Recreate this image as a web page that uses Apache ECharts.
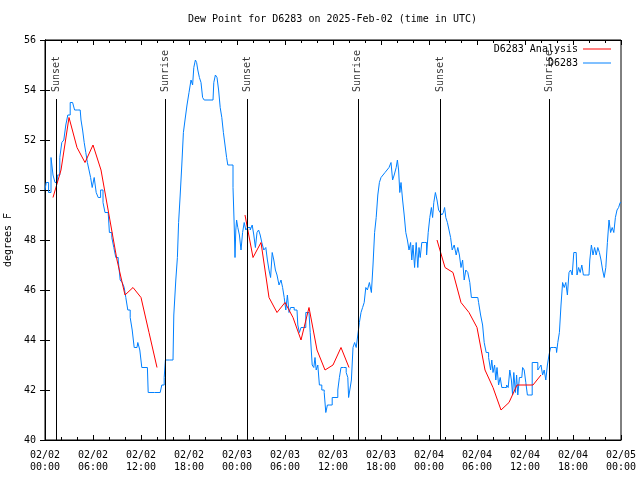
<!DOCTYPE html>
<html>
<head>
<meta charset="utf-8">
<script src="https://cdn.jsdelivr.net/npm/echarts@6/dist/echarts.min.js"></script>
<style>html,body{margin:0;padding:0;background:#fff}#c{width:640px;height:480px}</style>
</head>
<body>
<div id="c"></div>
<script>
// hours since 2025-02-02 00:00 UTC
var xTickLabels = ['02/02\n00:00','02/02\n06:00','02/02\n12:00','02/02\n18:00','02/03\n00:00','02/03\n06:00','02/03\n12:00','02/03\n18:00','02/04\n00:00','02/04\n06:00','02/04\n12:00','02/04\n18:00','02/05\n00:00'];

var analysisDay1 = [[1,49.7],[2,50.8],[3,52.9],[4,51.7],[5,51.1],[6,51.8],[7,50.8],[8,49.0],[9,47.2],[10,45.8],[11,46.1],[12,45.7],[13,44.3],[14,42.9]];
var analysisDay2 = [[25,49.0],[26,47.3],[27,47.9],[28,45.7],[29,45.1],[30,45.5],[31,44.9],[32,44.0],[33,45.3],[34,43.6],[35,42.8],[36,43.0],[37,43.7],[38,42.9]];
var analysisDay3 = [[49,48.0],[50,46.9],[51,46.7],[52,45.5],[53,45.1],[54,44.5],[55,42.8],[56,42.1],[57,41.2],[58,41.5],[59,42.2],[60,42.2],[61,42.2],[62,42.6]];

var obsDay1 = [[0.0,50.0],[0.3,50.3],[0.6,49.9],[0.9,51.3],[1.1,50.6],[1.4,50.3],[1.7,50.6],[2.0,51.3],[2.2,51.9],[2.5,52.0],[2.7,52.6],[3.0,53.0],[3.3,53.5],[3.6,53.5],[3.8,53.2],[4.4,53.2],[4.6,52.8],[4.8,52.4],[5.0,51.9],[5.2,51.5],[5.4,51.1],[5.6,50.8],[5.8,50.5],[6.0,50.1],[6.3,50.5],[6.5,49.9],[6.8,49.7],[7.1,50.0],[7.4,49.5],[7.6,49.1],[7.9,49.1],[8.2,48.3],[8.5,48.1],[8.7,47.7],[9.0,47.3],[9.3,47.2],[9.5,46.4],[9.8,46.3],[10.0,46.1],[10.2,45.7],[10.5,45.2],[10.8,44.9],[11.0,44.4],[11.3,43.7],[11.5,43.7],[11.7,43.9],[12.0,43.6],[12.2,42.9],[12.8,42.9],[13.0,41.9],[14.4,41.9],[14.8,42.2],[15.0,42.5],[15.1,43.2],[16.0,43.2],[16.2,45.0],[16.5,46.4],[16.6,47.3],[16.8,48.7],[17.0,49.8],[17.2,51.0],[17.4,52.3],[17.6,52.8],[17.9,53.4],[18.1,53.9],[18.4,54.4],[18.5,54.2],[18.7,54.9],[18.9,55.2],[19.0,55.1],[19.2,54.8],[19.4,54.5],[19.6,54.3],[19.8,53.7],[20.0,53.6],[21.0,53.6],[21.2,54.3],[21.4,54.6],[21.6,54.5],[21.8,54.0],[22.0,53.3],[22.2,52.9],[22.4,52.3],[22.6,51.8],[22.8,51.3],[22.9,51.0],[23.4,51.0],[23.6,50.1],[23.7,48.6],[23.8,47.3],[23.9,48.4]];
var obsDay2 = [[24.0,48.8],[24.2,48.5],[24.4,48.2],[24.6,47.6],[24.8,48.3],[25.0,48.7],[25.2,48.4],[25.5,48.5],[25.8,48.4],[26.0,48.6],[26.2,48.2],[26.4,47.7],[26.6,48.3],[26.8,48.4],[27.0,48.2],[27.2,47.9],[27.5,47.6],[27.7,47.7],[27.9,47.2],[28.1,46.8],[28.3,46.5],[28.5,47.5],[28.7,47.2],[28.9,46.8],[29.1,46.6],[29.4,46.2],[29.6,46.4],[29.8,46.1],[30.0,45.7],[30.2,45.2],[30.4,45.8],[30.6,45.1],[30.8,45.3],[31.5,45.2],[31.7,44.6],[31.9,44.3],[32.1,44.5],[32.5,44.5],[32.7,45.1],[33.0,45.1],[33.3,44.3],[33.5,43.0],[33.7,42.9],[33.8,43.3],[34.0,42.8],[34.2,43.0],[34.4,42.2],[34.8,42.0],[35.0,41.9],[35.2,41.1],[35.4,41.4],[35.8,41.4],[36.0,41.7],[36.5,41.7],[36.7,42.0],[36.9,42.5],[37.1,42.9],[37.5,42.9],[37.8,42.7],[37.9,42.5],[38.0,41.7],[38.2,42.0],[38.4,42.4],[38.6,43.7],[38.8,43.9],[39.0,43.7],[39.2,44.2],[39.4,44.7],[39.6,45.1],[39.8,45.3],[40.0,45.5],[40.2,46.1],[40.4,46.0],[40.7,46.3],[40.9,45.9],[41.1,47.0],[41.3,48.3],[41.5,48.9],[41.7,49.8],[41.9,50.3],[42.1,50.5],[42.4,50.6],[42.6,50.7],[42.9,50.8],[43.1,50.9],[43.4,51.1],[43.5,50.4],[43.8,50.6],[44.0,50.9],[44.1,51.2],[44.3,50.8],[44.4,49.9],[44.6,50.3],[44.8,49.6],[45.0,49.0],[45.2,48.3],[45.4,48.0],[45.6,47.6],[45.8,47.9],[45.9,47.2],[46.1,47.8],[46.3,46.9],[46.5,47.9],[46.7,46.9],[46.8,47.7],[47.0,47.3],[47.2,47.9],[47.6,47.9],[47.8,47.4]];
var obsDay3 = [[48.0,48.3],[48.2,48.9],[48.4,49.3],[48.5,48.9],[48.7,49.5],[48.9,49.9],[49.1,49.6],[49.3,49.2],[49.5,49.1],[49.7,49.0],[49.9,49.1],[50.0,49.3],[50.2,48.9],[50.4,48.7],[50.6,48.4],[50.8,48.1],[51.0,47.6],[51.3,47.8],[51.5,47.4],[51.7,47.7],[51.9,47.4],[52.1,46.9],[52.3,47.2],[52.5,46.4],[52.7,46.8],[53.0,46.7],[53.2,46.3],[53.4,45.7],[54.1,45.7],[54.3,45.5],[54.6,45.0],[54.8,44.6],[55.0,43.9],[55.3,43.5],[55.6,43.3],[55.8,42.8],[55.9,43.2],[56.1,42.7],[56.3,43.0],[56.4,42.4],[56.6,42.9],[56.8,42.2],[57.0,42.5],[57.2,42.1],[57.6,42.1],[57.8,42.2],[58.0,42.1],[58.2,42.8],[58.4,42.4],[58.5,41.8],[58.7,42.7],[58.9,41.9],[59.0,42.6],[59.2,41.8],[59.4,42.5],[59.6,42.5],[59.8,42.9],[60.0,42.8],[60.2,42.3],[60.4,41.8],[60.8,41.8],[61.0,43.1],[61.5,43.1],[61.7,42.8],[61.9,42.9],[62.1,43.0],[62.3,42.6],[62.5,42.8],[62.7,42.4],[62.9,43.0],[63.1,43.4],[63.3,43.7],[63.9,43.7],[64.0,43.5],[64.2,43.9],[64.4,44.3],[64.6,45.4],[64.8,46.3],[65.0,46.1],[65.2,46.3],[65.4,45.8],[65.6,46.7],[65.8,46.8],[66.0,46.6],[66.2,47.5],[66.4,47.5],[66.6,46.6],[66.8,46.9],[67.0,46.7],[67.2,47.0],[67.4,46.6],[68.0,46.6],[68.2,47.2],[68.4,47.8],[68.6,47.4],[68.8,47.7],[69.0,47.4],[69.2,47.7],[69.4,47.5],[69.6,47.2],[69.8,46.8],[70.0,46.5],[70.2,46.9],[70.4,47.9],[70.6,48.8],[70.8,48.3],[71.0,48.5],[71.2,48.3],[71.4,48.9],[71.6,49.2],[71.8,49.3],[72.0,49.5]];

var sunTimes = [1.42, 15.05, 25.25, 39.1, 49.37, 63.0];
var sunLabels = ['Sunset', 'Sunrise', 'Sunset', 'Sunrise', 'Sunset', 'Sunrise'];
var sunLineTop = 53.64;
var sunLabelBase = 53.92;

var FONT = 'DejaVu Sans Mono';
var analysisData = analysisDay1.concat([[14.5, '-']], analysisDay2, [[38.5, '-']], analysisDay3);
var obsData = obsDay1.concat(obsDay2, obsDay3);

var chart = echarts.init(document.getElementById('c'), null, {renderer: 'canvas'});
var axisCommon = {
  type: 'value', min: 0, max: 72, interval: 6,
  axisLine: {show: true, lineStyle: {color: '#000', width: 1}},
  axisTick: {show: true, inside: true, length: 5, lineStyle: {color: '#000'}},
  minorTick: {show: true, splitNumber: 3, length: 3, lineStyle: {color: '#000'}},
  splitLine: {show: false}
};
var legendText = {fontFamily: FONT, fontSize: 10, color: '#000'};
chart.setOption({
  animation: false,
  backgroundColor: '#fff',
  textStyle: {fontFamily: FONT},
  title: {
    text: 'Dew Point for D6283 on 2025-Feb-02 (time in UTC)',
    left: 183, top: 9,
    textStyle: {fontFamily: FONT, fontSize: 10, fontWeight: 'normal', color: '#000'}
  },
  legend: [
    {data: ['D6283 Analysis'], right: 29, top: 44, padding: 0, align: 'right', icon: 'rect', itemWidth: 28, itemHeight: 1,
     selectedMode: false, textStyle: legendText},
    {data: ['D6283'], right: 29, top: 58, padding: 0, align: 'right', icon: 'rect', itemWidth: 28, itemHeight: 1,
     selectedMode: false, textStyle: legendText}
  ],
  grid: {left: 45, right: 19, top: 40, bottom: 40, show: true, borderColor: '#000', borderWidth: 1,
         containLabel: false, outerBoundsMode: 'none'},
  xAxis: [
    Object.assign({}, axisCommon, {
      position: 'bottom',
      axisLabel: {show: true, color: '#000', fontFamily: FONT, fontSize: 10, lineHeight: 12, margin: 9,
        formatter: function (v) { return xTickLabels[Math.round(v / 6)]; }}
    }),
    Object.assign({}, axisCommon, {position: 'top', axisLabel: {show: false}})
  ],
  yAxis: [
    {type: 'value', min: 40, max: 56, interval: 2, position: 'left',
     name: 'degrees F', nameLocation: 'middle', nameGap: 30,
     nameTextStyle: {fontFamily: FONT, fontSize: 10, color: '#000'},
     axisLine: {show: true, lineStyle: {color: '#000'}},
     axisTick: {show: true, inside: true, length: 5, lineStyle: {color: '#000'}},
     axisLabel: {color: '#000', fontFamily: FONT, fontSize: 10, margin: 9},
     splitLine: {show: false}},
    {type: 'value', min: 40, max: 56, interval: 2, position: 'right',
     axisLine: {show: true, lineStyle: {color: '#000'}},
     axisTick: {show: true, inside: true, length: 5, lineStyle: {color: '#000'}},
     axisLabel: {show: false}, splitLine: {show: false}}
  ],
  series: [
    {
      name: 'sun', type: 'scatter', symbolSize: 0, silent: true,
      data: sunTimes.map(function (t, i) { return {value: [t, sunLabelBase], name: sunLabels[i]}; }),
      label: {show: true, position: 'inside', rotate: 90, align: 'left', verticalAlign: 'middle',
        formatter: function (p) { return p.name; }, color: '#000', fontFamily: FONT, fontSize: 10},
      markLine: {
        silent: true, symbol: 'none', animation: false,
        lineStyle: {color: '#000', width: 1, type: 'solid'},
        label: {show: false},
        data: sunTimes.map(function (t) { return [{coord: [t, 40]}, {coord: [t, sunLineTop]}]; })
      }
    },
    {
      name: 'D6283 Analysis', type: 'line', data: analysisData, showSymbol: false, symbol: 'none',
      connectNulls: false, color: '#ff0000', lineStyle: {color: '#ff0000', width: 1}, z: 3
    },
    {
      name: 'D6283', type: 'line', data: obsData, showSymbol: false, symbol: 'none', step: 'middle',
      color: '#0080ff', lineStyle: {color: '#0080ff', width: 1}, z: 2
    }
  ]
});
</script>
</body>
</html>
